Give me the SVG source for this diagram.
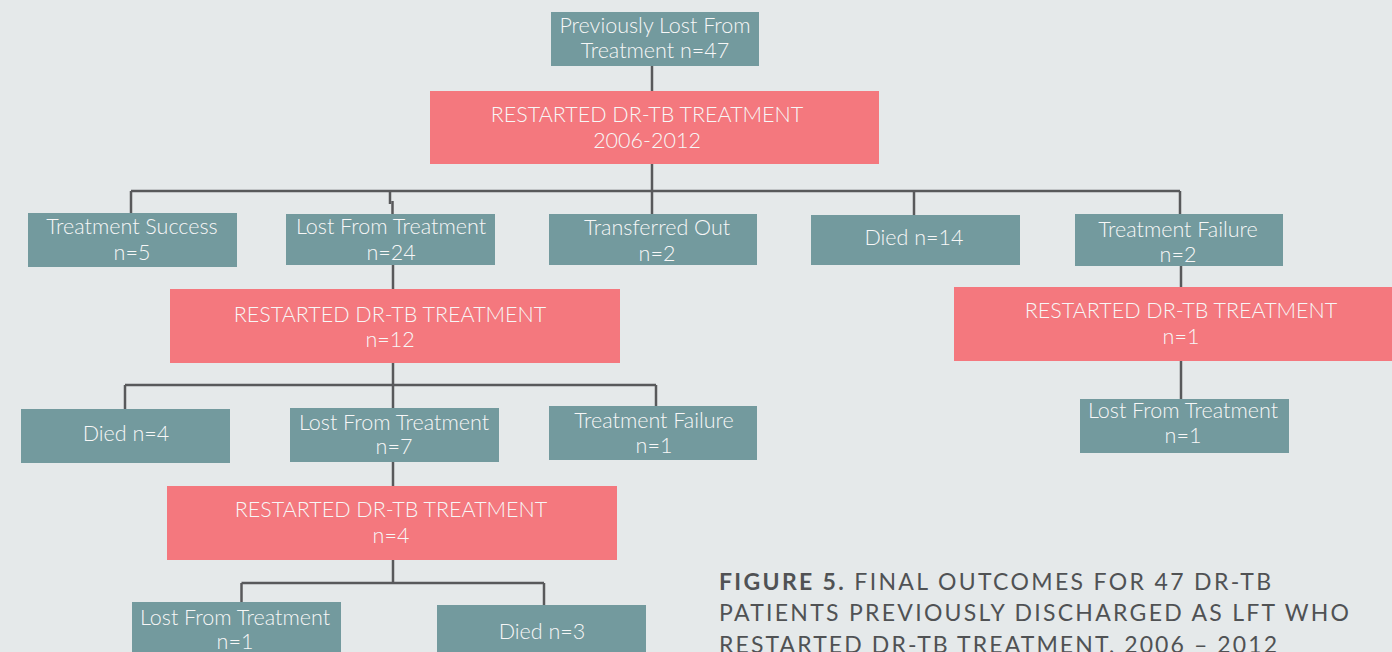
<svg xmlns="http://www.w3.org/2000/svg" width="1392" height="652" viewBox="0 0 1392 652">
  <style>
    .bg { fill: #e5e9ea; }
    .outcome { fill: #739a9e; }
    .restart { fill: #f4787e; }
    .lbl { font-family: Lato, "Open Sans", sans-serif; font-weight: 300; font-size: 21.5px; fill: #f7f7f7; text-anchor: middle; }
    .cap { font-family: Lato, "Open Sans", sans-serif; font-size: 23px; fill: #505254; }
    .link { stroke: #58595b; stroke-width: 2.5; fill: none; }
  </style>
  <rect class="bg" x="0" y="0" width="1392" height="652"/>

  <!-- connectors -->
  <g id="connectors">
    <path class="link" d="M652 66 V91"/>
    <path class="link" d="M652 164 V214"/>
    <path class="link" d="M131 191 H1180"/>
    <path class="link" d="M131 191 V213"/>
    <path class="link" d="M390 191 V204"/>
    <path class="link" d="M392.5 201 V214"/>
    <path class="link" d="M914 191 V215"/>
    <path class="link" d="M1180 191 V214"/>
    <path class="link" d="M393 265 V289"/>
    <path class="link" d="M1181 265 V287"/>
    <path class="link" d="M1181 361 V399"/>
    <path class="link" d="M393 362 V408"/>
    <path class="link" d="M125 385 H656"/>
    <path class="link" d="M125 385 V409"/>
    <path class="link" d="M656 385 V406"/>
    <path class="link" d="M393 461 V486"/>
    <path class="link" d="M393 559 V583"/>
    <path class="link" d="M241.5 583 H544"/>
    <path class="link" d="M241.5 583 V603"/>
    <path class="link" d="M544 583 V605"/>
  </g>

  <g id="n-root">
    <rect class="outcome" x="551" y="12" width="208" height="54"/>
    <text class="lbl" x="655" y="33">Previously Lost From</text>
    <text class="lbl" x="655" y="58">Treatment n=47</text>
  </g>
  <g id="n-restart1">
    <rect class="restart" x="430" y="91" width="449" height="73"/>
    <text class="lbl" x="647" y="122">RESTARTED DR-TB TREATMENT</text>
    <text class="lbl" x="647" y="148">2006-2012</text>
  </g>

  <g id="n-success">
    <rect class="outcome" x="28" y="213" width="209" height="54"/>
    <text class="lbl" x="132" y="234">Treatment Success</text>
    <text class="lbl" x="132" y="260">n=5</text>
  </g>
  <g id="n-lft24">
    <rect class="outcome" x="286" y="214" width="209" height="51"/>
    <text class="lbl" x="391" y="234">Lost From Treatment</text>
    <text class="lbl" x="391" y="260">n=24</text>
  </g>
  <g id="n-transfer">
    <rect class="outcome" x="549" y="214" width="208" height="51"/>
    <text class="lbl" x="657" y="235">Transferred Out</text>
    <text class="lbl" x="657" y="261">n=2</text>
  </g>
  <g id="n-died14">
    <rect class="outcome" x="811" y="215" width="209" height="50"/>
    <text class="lbl" x="914" y="245">Died n=14</text>
  </g>
  <g id="n-fail2">
    <rect class="outcome" x="1075" y="214" width="208" height="52"/>
    <text class="lbl" x="1178" y="237">Treatment Failure</text>
    <text class="lbl" x="1178" y="262">n=2</text>
  </g>

  <g id="n-restart12">
    <rect class="restart" x="170" y="289" width="450" height="74"/>
    <text class="lbl" x="390" y="322">RESTARTED DR-TB TREATMENT</text>
    <text class="lbl" x="390" y="347">n=12</text>
  </g>
  <g id="n-restart1b">
    <rect class="restart" x="954" y="287" width="438" height="74"/>
    <text class="lbl" x="1181" y="318">RESTARTED DR-TB TREATMENT</text>
    <text class="lbl" x="1181" y="344">n=1</text>
  </g>

  <g id="n-died4">
    <rect class="outcome" x="21" y="409" width="209" height="54"/>
    <text class="lbl" x="126" y="441">Died n=4</text>
  </g>
  <g id="n-lft7">
    <rect class="outcome" x="290" y="408" width="209" height="54"/>
    <text class="lbl" x="394" y="430">Lost From Treatment</text>
    <text class="lbl" x="394" y="454">n=7</text>
  </g>
  <g id="n-fail1">
    <rect class="outcome" x="549" y="406" width="208" height="54"/>
    <text class="lbl" x="654" y="428">Treatment Failure</text>
    <text class="lbl" x="654" y="453">n=1</text>
  </g>
  <g id="n-lft1b">
    <rect class="outcome" x="1080" y="399" width="209" height="54"/>
    <text class="lbl" x="1183" y="418">Lost From Treatment</text>
    <text class="lbl" x="1183" y="443">n=1</text>
  </g>

  <g id="n-restart4">
    <rect class="restart" x="167" y="486" width="450" height="74"/>
    <text class="lbl" x="391" y="517">RESTARTED DR-TB TREATMENT</text>
    <text class="lbl" x="391" y="543">n=4</text>
  </g>

  <g id="n-lft1">
    <rect class="outcome" x="132" y="602" width="209" height="60"/>
    <text class="lbl" x="235" y="625">Lost From Treatment</text>
    <text class="lbl" x="235" y="649">n=1</text>
  </g>
  <g id="n-died3">
    <rect class="outcome" x="437" y="605" width="209" height="60"/>
    <text class="lbl" x="542" y="639">Died n=3</text>
  </g>

  <g id="caption">
    <text class="cap" x="719" y="590" textLength="552" lengthAdjust="spacing"><tspan font-weight="700">FIGURE 5.</tspan> FINAL OUTCOMES FOR 47 DR-TB</text>
    <text class="cap" x="719" y="621" textLength="630" lengthAdjust="spacing">PATIENTS PREVIOUSLY DISCHARGED AS LFT WHO</text>
    <text class="cap" x="719" y="653" textLength="558" lengthAdjust="spacing">RESTARTED DR-TB TREATMENT, 2006 – 2012</text>
  </g>
</svg>
